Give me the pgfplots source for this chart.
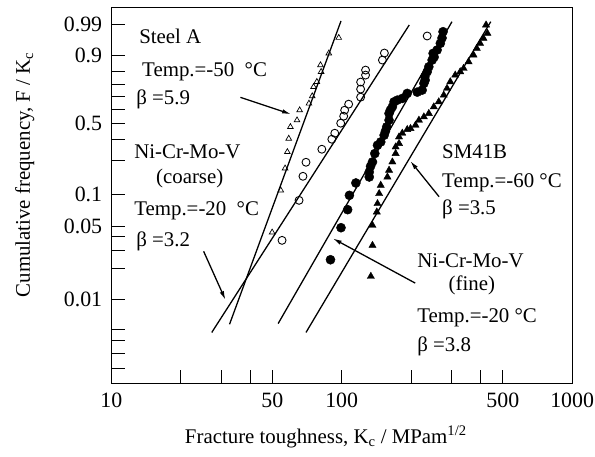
\documentclass[border=0pt]{standalone}
\usepackage{fontspec}
\setmainfont{Liberation Serif}
\usepackage{pgfplots}
\pgfplotsset{compat=1.18}
\usetikzlibrary{arrows.meta}
\newcommand{\ff}{\fontsize{21}{25}\selectfont}
\newcommand{\tf}{\fontsize{22}{26}\selectfont}
\begin{document}
\ff
\begin{tikzpicture}
\useasboundingbox (-112pt,-74pt) rectangle (487pt,386pt);
\begin{axis}[
  at={(0pt,0pt)}, anchor=south west,
  scale only axis, width=464pt, height=378pt,
  xmode=log, xmin=10, xmax=1000,
  y coord trafo/.code={\pgfmathparse{ln(-ln(1-#1))}},
  y coord inv trafo/.code={\pgfmathparse{1-exp(-exp(#1))}},
  ymin=0.001488, ymax=0.99859,
  xtick={10,20,30,40,50,100,200,300,400,500,1000},
  xticklabels={10,,,,50,100,,,,500,1000},
  ytick={0.002,0.003,0.004,0.005,0.01,0.02,0.03,0.04,0.05,0.1,0.2,0.3,0.4,0.5,0.6,0.7,0.8,0.9,0.99},
  yticklabels={,,,,0.01,,,,0.05,0.1,,,0.5,,,,,0.9,0.99},
  minor xtick={}, minor ytick={},
  tick align=inside, xtick pos=bottom, ytick pos=left,
  major tick length=14pt,
  every tick/.style={black, line width=1pt},
  axis line style={line width=1.1pt},
  /pgf/number format/assume math mode=true,
  ticklabel style={font=\tf},
  yticklabel style={xshift=-2pt},
  xticklabel style={yshift=-2pt},
  xlabel={Fracture toughness, K\textsubscript{c} / MPam\textsuperscript{1/2}},
  ylabel={Cumulative frequency, F / K\textsubscript{c}},
  xlabel style={font=\ff, at={(axis description cs:0.4655,-0.1429)}, anchor=center},
  ylabel style={font=\ff, at={(axis description cs:-0.1875,0.5556)}, anchor=center, rotate=0},
  clip=false,
]
% Steel A, Temp. -50 C (open triangles)
\addplot[only marks, mark=triangle, mark size=3.3pt, mark options={line width=0.7pt, black}] coordinates {
(49.9,0.0445) (54.4,0.1091) (56.8,0.1716) (58.1,0.2368) (58.9,0.305) (59.9,0.3756)
(64.0,0.4209) (65.7,0.4944) (72.1,0.5468) (74.5,0.6057) (75.5,0.6814) (78.0,0.7214)
(81.4,0.7973) (80.9,0.843) (87.9,0.9094) (97.1,0.9664)};
% Ni-Cr-Mo-V coarse (open circles)
\addplot[only marks, mark=o, mark size=4pt, mark options={line width=0.9pt, black}] coordinates {
(55.1,0.0374) (65.3,0.0884) (67.9,0.1458) (70.0,0.1935) (82.0,0.2495) (90.6,0.3011)
(93.3,0.3359) (99.0,0.4002) (102.0,0.4495) (103.0,0.4944) (107.2,0.5412) (120.8,0.5975)
(120.8,0.6629) (120.8,0.7193) (126.9,0.7731) (126.9,0.8093) (150.2,0.8737) (153.2,0.9108)
(234.9,0.9706)};
% Ni-Cr-Mo-V fine (filled circles)
\addplot[only marks, mark=*, mark size=4.6pt, mark options={black, fill=black}] coordinates {
(89.4,0.0245) (99.3,0.0492) (106.1,0.0725) (108.0,0.0982) (115.2,0.1271) (131.7,0.1438)
(131.7,0.1592) (133.4,0.1786) (136.0,0.1947) (139.2,0.2296) (143.0,0.2692) (147.7,0.2864)
(152.8,0.3240) (154.8,0.348) (156.8,0.3756) (160.5,0.4209) (160.5,0.4694) (162.6,0.4944)
(165.9,0.5200) (168.7,0.5596) (174.3,0.5733) (183.2,0.5870) (192.5,0.6278) (212.7,0.6384)
(223.4,0.6547) (227.3,0.7089) (230.2,0.735) (229.5,0.7602) (234.9,0.7973) (238.8,0.8319)
(246.8,0.8737) (251.8,0.8905) (249.3,0.9094) (259.4,0.9245) (267.9,0.9501) (272.5,0.9657)
(275.3,0.9793)};
% SM41B (filled triangles)
\addplot[only marks, mark=triangle*, mark size=4.2pt, mark options={black, fill=black}] coordinates {
(133.8,0.0170) (136.0,0.0335) (136.0,0.0517) (142.0,0.0689) (143.0,0.0824) (145.4,0.1018)
(147.7,0.1211) (157.9,0.1438) (160.5,0.1648) (165.9,0.1947) (171.4,0.2296) (171.4,0.2607)
(177.3,0.2780) (177.3,0.3141) (183.2,0.3359) (192.5,0.3587) (198.9,0.3651) (209.1,0.3867)
(216.3,0.4209) (227.3,0.4444) (238.8,0.4694) (251.0,0.5200) (263.7,0.5596) (277.2,0.6138)
(286.4,0.6686) (295.9,0.7214) (310.9,0.7731) (326.8,0.7973) (338.0,0.8210) (355.2,0.8637)
(373.3,0.9009) (385.7,0.9316) (398.5,0.9501) (412.2,0.9649) (428.9,0.9763) (423.0,0.9889)};
% fitted Weibull lines
\addplot[black, line width=1.3pt] coordinates {(32.6,0.00588) (99.3,0.9927)};
\addplot[black, line width=1.3pt] coordinates {(27.3,0.00493) (196.4,0.9889)};
\addplot[black, line width=1.3pt] coordinates {(53.0,0.00601) (300.9,0.9921)};
\addplot[black, line width=1.3pt] coordinates {(70.0,0.00493) (443.3,0.9921)};
\end{axis}
\begin{scope}[every node/.style={font=\ff, inner sep=0pt}]
\node[anchor=west] at (28pt,349pt) {Steel A};
\node[anchor=west] at (31pt,314pt) {Temp.=-50 \ °C};
\node[anchor=west] at (25pt,286pt) {β =5.9};
\node[anchor=west] at (23pt,233pt) {Ni-Cr-Mo-V};
\node at (79pt,206pt) {(coarse)};
\node[anchor=west] at (23pt,174pt) {Temp.=-20 \ °C};
\node[anchor=west] at (25pt,143pt) {β =3.2};
\node[anchor=west] at (333pt,233pt) {SM41B};
\node[anchor=west] at (333pt,202pt) {Temp.=-60 °C};
\node[anchor=west] at (333pt,175pt) {β =3.5};
\node[anchor=west] at (308pt,123pt) {Ni-Cr-Mo-V};
\node at (363pt,99pt) {(fine)};
\node[anchor=west] at (308pt,66pt) {Temp.=-20 °C};
\node[anchor=west] at (308pt,37pt) {β =3.8};
\end{scope}
\begin{scope}[line width=1.3pt, -{Latex[length=9pt,width=4.5pt]}]
\draw (130pt,288pt) -- (181pt,271pt);
\draw (93pt,133pt) -- (115pt,84pt);
\draw (330pt,188pt) -- (301pt,224pt);
\draw (306pt,101pt) -- (223pt,146pt);
\end{scope}
\end{tikzpicture}
\end{document}
